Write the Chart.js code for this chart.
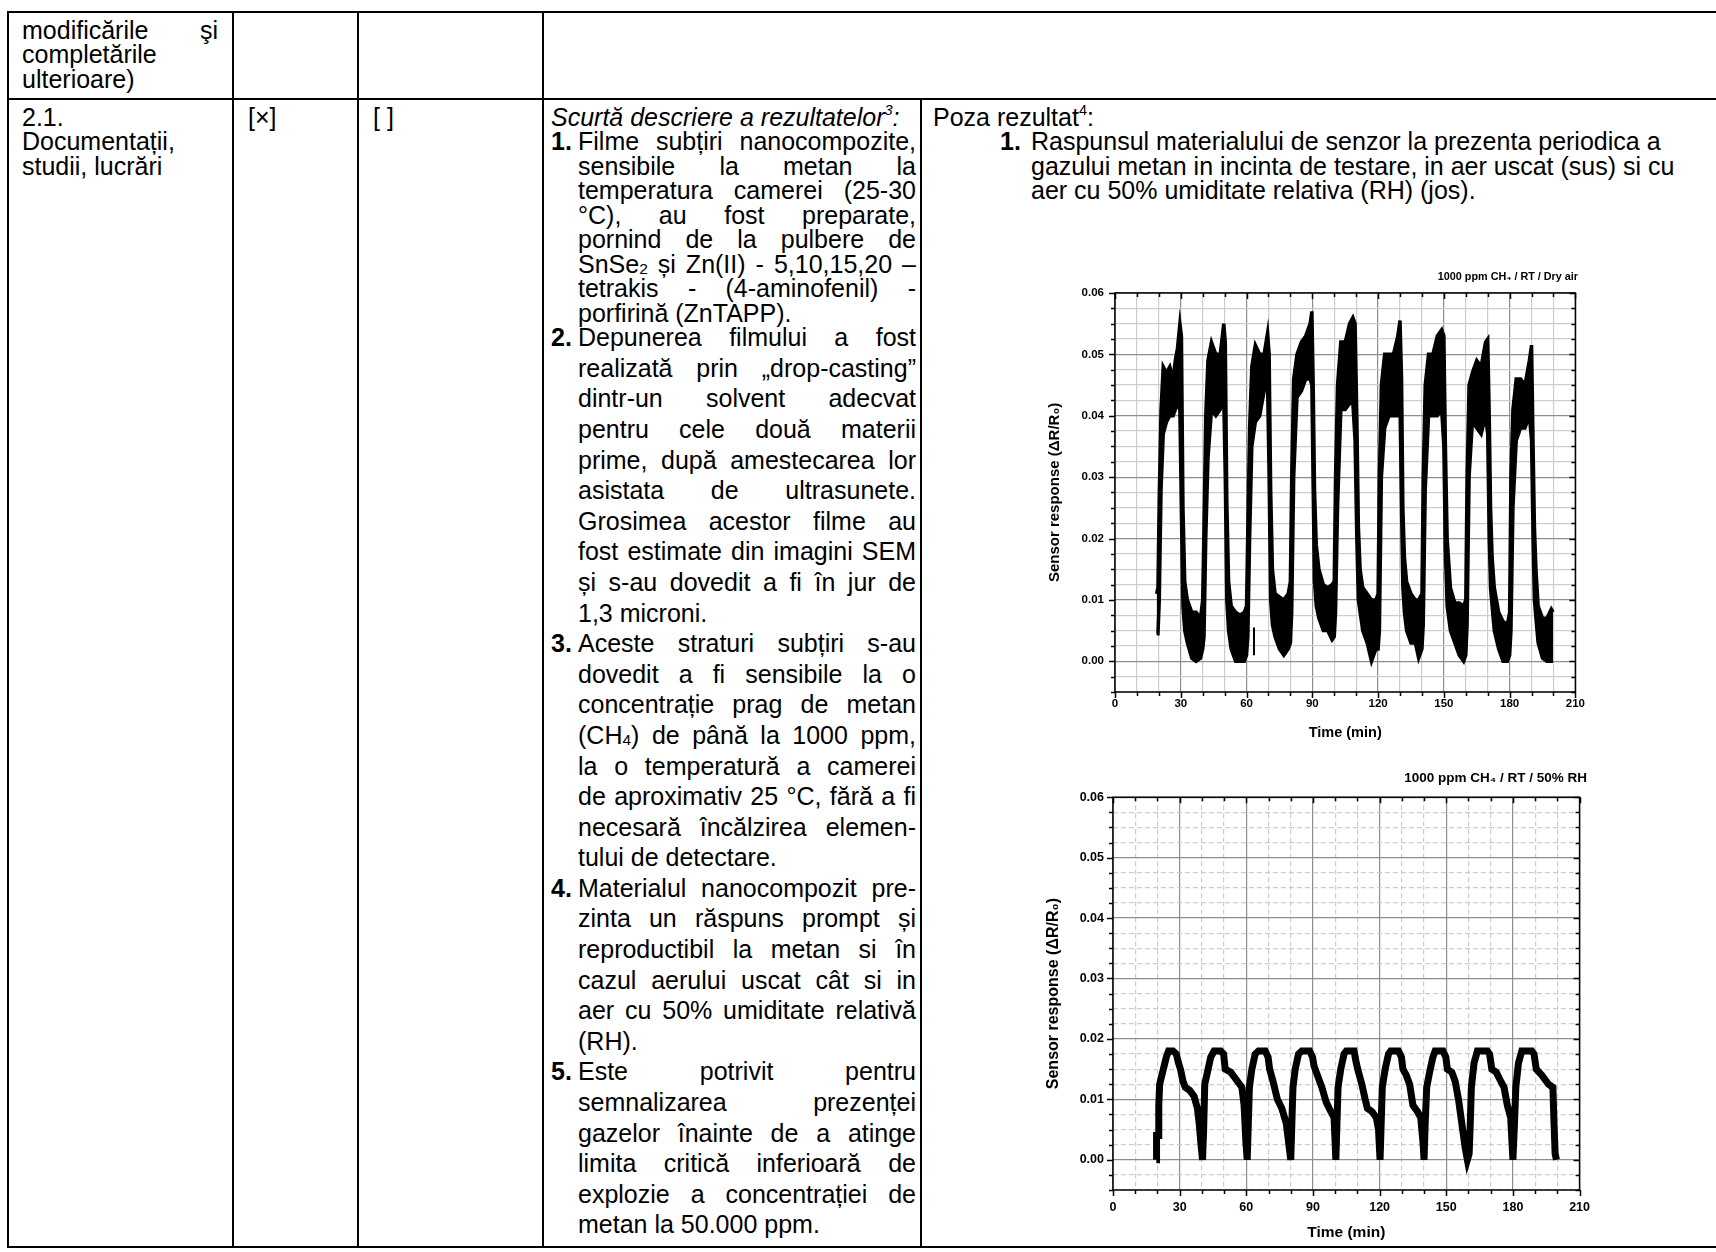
<!DOCTYPE html>
<html>
<head>
<meta charset="utf-8">
<script src="https://cdn.jsdelivr.net/npm/chart.js@4.4.1/dist/chart.umd.min.js"></script>
<style>
  html, body { margin: 0; padding: 0; background: #fff; }
  body {
    width: 1716px; height: 1252px; position: relative; overflow: hidden;
    font-family: 'Liberation Sans', Arial, Helvetica, sans-serif;
    font-size: 25px; line-height: 24.5px; color: #000;
  }
  .h { position: absolute; height: 2px; background: #000; }
  .v { position: absolute; width: 2px; background: #000; }
  .blk { position: absolute; }
  .ln { height: 24.5px; position: relative; white-space: nowrap; }
  .lo { height: 30.6px; }
  .j { text-align: justify; text-align-last: justify; white-space: normal; }
  .ind { padding-left: 27px; }
  .num { position: absolute; left: 0; top: 0; font-weight: bold; }
  sup { font-size: 58%; line-height: 0; vertical-align: 0.75em; }
  .sub { font-size: 62%; vertical-align: -0.05em; }
  canvas { position: absolute; }
</style>
</head>
<body>

<!-- table lines -->
<div class="h" style="left:7px; top:11px; width:1709px;"></div>
<div class="h" style="left:7px; top:98px; width:1709px;"></div>
<div class="h" style="left:7px; top:1246px; width:1709px;"></div>
<div class="v" style="left:7px; top:11px; height:1237px;"></div>
<div class="v" style="left:232px; top:11px; height:1237px;"></div>
<div class="v" style="left:357px; top:11px; height:1237px;"></div>
<div class="v" style="left:542px; top:11px; height:1237px;"></div>
<div class="v" style="left:920px; top:98px; height:1150px;"></div>

<!-- column 1 -->
<div class="blk" style="left:22px; top:17.7px; width:196px;">
  <div class="ln j">modificările şi</div>
  <div class="ln">completările</div>
  <div class="ln">ulterioare)</div>
</div>
<div class="blk" style="left:22px; top:104.7px; width:196px;">
  <div class="ln">2.1.</div>
  <div class="ln">Documentații,</div>
  <div class="ln">studii, lucrări</div>
</div>
<div class="blk" style="left:248px; top:104.7px;"><div class="ln">[×]</div></div>
<div class="blk" style="left:373px; top:104.7px;"><div class="ln">[ ]</div></div>

<!-- column 4 -->
<div class="blk" style="left:551px; top:104.7px; width:365px;">
  <div class="ln"><i>Scurtă descriere a rezultatelor<sup>3</sup>:</i></div>
  <div class="ln ind j"><span class="num">1.</span>Filme subțiri nanocompozite,</div>
  <div class="ln ind j">sensibile la metan la</div>
  <div class="ln ind j">temperatura camerei (25-30</div>
  <div class="ln ind j">°C), au fost preparate,</div>
  <div class="ln ind j">pornind de la pulbere de</div>
  <div class="ln ind j">SnSe<span class="sub">2</span> și Zn(II) - 5,10,15,20 –</div>
  <div class="ln ind j">tetrakis - (4-aminofenil) -</div>
  <div class="ln ind">porfirină (ZnTAPP).</div>
  <div class="ln lo ind j"><span class="num">2.</span>Depunerea filmului a fost</div>
  <div class="ln lo ind j">realizată prin „drop-casting”</div>
  <div class="ln lo ind j">dintr-un solvent adecvat</div>
  <div class="ln lo ind j">pentru cele două materii</div>
  <div class="ln lo ind j">prime, după amestecarea lor</div>
  <div class="ln lo ind j">asistata de ultrasunete.</div>
  <div class="ln lo ind j">Grosimea acestor filme au</div>
  <div class="ln lo ind j">fost estimate din imagini SEM</div>
  <div class="ln lo ind j">și s-au dovedit a fi în jur de</div>
  <div class="ln lo ind">1,3 microni.</div>
  <div class="ln lo ind j"><span class="num">3.</span>Aceste straturi subțiri s-au</div>
  <div class="ln lo ind j">dovedit a fi sensibile la o</div>
  <div class="ln lo ind j">concentrație prag de metan</div>
  <div class="ln lo ind j">(CH<span class="sub">4</span>) de până la 1000 ppm,</div>
  <div class="ln lo ind j">la o temperatură a camerei</div>
  <div class="ln lo ind j">de aproximativ 25 °C, fără a fi</div>
  <div class="ln lo ind j">necesară încălzirea elemen-</div>
  <div class="ln lo ind">tului de detectare.</div>
  <div class="ln lo ind j"><span class="num">4.</span>Materialul nanocompozit pre-</div>
  <div class="ln lo ind j">zinta un răspuns prompt și</div>
  <div class="ln lo ind j">reproductibil la metan si în</div>
  <div class="ln lo ind j">cazul aerului uscat cât si in</div>
  <div class="ln lo ind j">aer cu 50% umiditate relativă</div>
  <div class="ln lo ind">(RH).</div>
  <div class="ln lo ind j"><span class="num">5.</span>Este potrivit pentru</div>
  <div class="ln lo ind j">semnalizarea prezenței</div>
  <div class="ln lo ind j">gazelor înainte de a atinge</div>
  <div class="ln lo ind j">limita critică inferioară de</div>
  <div class="ln lo ind j">explozie a concentrației de</div>
  <div class="ln lo ind">metan la 50.000 ppm.</div>
</div>

<!-- column 5 -->
<div class="blk" style="left:933px; top:104.7px;">
  <div class="ln">Poza rezultat<sup>4</sup>:</div>
</div>
<div class="blk" style="left:1000px; top:129.2px; width:700px;">
  <div class="ln" style="padding-left:31px;"><span class="num">1.</span>Raspunsul materialului de senzor la prezenta periodica a</div>
  <div class="ln" style="padding-left:31px;">gazului metan in incinta de testare, in aer uscat (sus) si cu</div>
  <div class="ln" style="padding-left:31px;">aer cu 50% umiditate relativa (RH) (jos).</div>
</div>

<canvas id="dry" width="560" height="480" style="left:1030px; top:265px;"></canvas>
<canvas id="humid" width="570" height="492" style="left:1030px; top:760px;"></canvas>

<script>
// axis labels
const timeMajor = [0, 30, 60, 90, 120, 150, 180, 210];
const responseMajor = [0.00, 0.01, 0.02, 0.03, 0.04, 0.05, 0.06];

// dry air: the noisy trace is kept as its upper and lower envelope
const dryTime = [
  19.0, 19.6, 20.2, 21.0, 22.0, 23.5, 25.0, 26.5, 27.5, 28.5, 29.6, 30.3, 31.0, 31.8, 33.0, 35.0, 37.0, 39.0, 40.0,
  40.6, 41.4, 42.4, 44.0, 46.0, 48.0, 49.6, 50.3, 51.0, 51.8, 53.0, 55.0, 57.0, 59.0, 60.0,
  60.6, 61.4, 62.4, 64.0, 66.0, 68.0, 69.6, 70.3, 71.0, 71.8, 73.0, 75.0, 77.0, 79.0, 80.0,
  80.6, 81.5, 83.0, 85.0, 87.0, 89.0, 89.8, 90.4, 91.0, 91.8, 93.0, 95.0, 97.0, 99.0, 100.0,
  100.6, 101.5, 103.0, 105.0, 107.0, 108.5, 109.5, 110.3, 111.0, 111.8, 113.0, 115.0, 117.0, 119.0, 120.0,
  120.6, 121.5, 123.0, 125.0, 127.0, 129.0, 130.0, 130.7, 131.3, 132.0, 133.0, 135.0, 137.0, 138.5, 140.0,
  140.6, 141.5, 143.0, 145.0, 147.0, 149.0, 150.0, 150.7, 151.5, 153.0, 155.0, 157.0, 159.0, 160.0,
  160.6, 161.5, 163.0, 165.0, 167.0, 169.0, 170.0, 170.7, 171.3, 172.0, 173.0, 175.0, 177.0, 179.0, 180.0,
  180.6, 181.5, 183.0, 185.0, 187.0, 189.0, 190.0, 190.7, 191.3, 192.0, 193.0, 195.0, 197.0, 199.0, 199.8
];
const dryUpper = [
  0.011, 0.012, 0.027, 0.041, 0.048, 0.047, 0.048, 0.046, 0.049, 0.051, 0.055, 0.053, 0.025, 0.013, 0.010, 0.008, 0.008, 0.007, 0.010,
  0.022, 0.040, 0.049, 0.052, 0.050, 0.050, 0.055, 0.052, 0.026, 0.013, 0.009, 0.008, 0.0075, 0.008, 0.009,
  0.022, 0.038, 0.048, 0.0515, 0.050, 0.050, 0.0535, 0.050, 0.028, 0.015, 0.011, 0.0105, 0.010, 0.011, 0.013,
  0.030, 0.046, 0.050, 0.052, 0.053, 0.055, 0.057, 0.045, 0.028, 0.019, 0.015, 0.0125, 0.012, 0.0125, 0.013,
  0.030, 0.045, 0.052, 0.052, 0.055, 0.056, 0.055, 0.040, 0.022, 0.015, 0.012, 0.011, 0.010, 0.010, 0.011,
  0.030, 0.045, 0.050, 0.050, 0.050, 0.053, 0.0555, 0.046, 0.025, 0.017, 0.013, 0.011, 0.010, 0.010, 0.011,
  0.030, 0.045, 0.050, 0.050, 0.053, 0.054, 0.053, 0.035, 0.020, 0.012, 0.0095, 0.0095, 0.009, 0.010,
  0.030, 0.045, 0.047, 0.049, 0.048, 0.052, 0.0525, 0.040, 0.025, 0.017, 0.012, 0.008, 0.0065, 0.006, 0.008,
  0.030, 0.041, 0.046, 0.046, 0.045, 0.049, 0.0515, 0.035, 0.022, 0.015, 0.009, 0.007, 0.007, 0.0085, 0.008
];
const dryLower = [
  0.0045, 0.0045, 0.010, 0.028, 0.037, 0.039, 0.040, 0.040, 0.041, 0.042, 0.041, 0.024, 0.009, 0.005, 0.003, 0.0005, 0.000, 0.0005, 0.002,
  0.004, 0.020, 0.033, 0.041, 0.040, 0.041, 0.043, 0.030, 0.010, 0.005, 0.002, 0.000, 0.000, 0.000, 0.001,
  0.004, 0.020, 0.035, 0.039, 0.040, 0.044, 0.045, 0.030, 0.010, 0.006, 0.004, 0.002, 0.001, 0.002, 0.003,
  0.008, 0.030, 0.043, 0.044, 0.046, 0.046, 0.045, 0.028, 0.013, 0.009, 0.007, 0.005, 0.005, 0.0035, 0.004,
  0.008, 0.025, 0.041, 0.041, 0.042, 0.042, 0.036, 0.020, 0.010, 0.008, 0.005, 0.003, 0.000, 0.002, 0.002,
  0.005, 0.030, 0.038, 0.040, 0.040, 0.040, 0.042, 0.025, 0.012, 0.008, 0.005, 0.003, 0.003, 0.0005, 0.002,
  0.006, 0.028, 0.040, 0.040, 0.040, 0.041, 0.035, 0.018, 0.009, 0.005, 0.003, 0.001, 0.000, 0.001,
  0.006, 0.030, 0.039, 0.038, 0.037, 0.040, 0.037, 0.020, 0.012, 0.009, 0.005, 0.002, 0.000, 0.000, 0.001,
  0.005, 0.025, 0.036, 0.038, 0.038, 0.040, 0.036, 0.020, 0.010, 0.007, 0.003, 0.0005, 0.000, 0.000, 0.000
];
// lone glitch near 63 min
const spikeTime = [63.4, 63.4];
const spikeResponse = [0.001, 0.0055];

// 50% RH
const humidTime = [
  19.5, 19.6, 20.3, 20.6, 21.0, 22.0, 23.0, 24.0, 25.0, 27.0, 28.5, 29.5, 30.5, 31.5, 32.5, 34.5, 36.5, 38.0, 38.8, 39.5, 40.3,
  40.8, 41.3, 42.5, 44.0, 45.5, 48.5, 49.8, 50.5, 53.0, 56.0, 58.0, 59.0, 59.8, 60.4,
  60.9, 61.4, 62.5, 64.0, 65.5, 68.5, 69.8, 70.5, 72.0, 74.0, 76.0, 78.0, 79.0, 80.0,
  80.5, 81.0, 82.0, 83.5, 85.0, 88.5, 89.8, 90.5, 92.0, 94.0, 96.0, 98.0, 99.5, 100.3,
  100.8, 101.3, 102.5, 104.0, 105.0, 108.5, 109.5, 110.5, 112.0, 113.5, 114.5, 116.5, 118.5, 119.5, 120.2,
  120.7, 121.2, 122.5, 124.0, 125.0, 128.5, 129.8, 130.5, 132.0, 133.5, 135.0, 137.0, 138.5, 139.5, 140.0,
  140.5, 141.2, 142.5, 144.0, 145.0, 148.5, 149.8, 150.5, 152.5, 154.0, 155.5, 157.0, 158.5, 159.5, 160.3,
  160.8, 161.3, 162.5, 164.0, 168.5, 169.5, 170.5, 172.5, 174.5, 176.0, 177.5, 179.0, 180.0,
  180.7, 181.3, 182.5, 184.0, 188.5, 189.5, 190.5, 193.0, 196.0, 198.0, 198.5, 199.0, 199.6
];
const humidResponse = [
  0.000, 0.004, 0.004, 0.009, 0.0125, 0.014, 0.0155, 0.017, 0.018, 0.018, 0.0175, 0.016, 0.0148, 0.013, 0.012, 0.0115, 0.0105, 0.0085, 0.006, 0.003, 0.000,
  0.005, 0.0125, 0.0145, 0.017, 0.018, 0.018, 0.0175, 0.015, 0.0145, 0.013, 0.012, 0.009, 0.003, 0.000,
  0.006, 0.012, 0.015, 0.0175, 0.018, 0.018, 0.017, 0.015, 0.013, 0.010, 0.0085, 0.006, 0.003, 0.000,
  0.006, 0.012, 0.015, 0.0175, 0.018, 0.018, 0.017, 0.0155, 0.014, 0.012, 0.0095, 0.008, 0.007, 0.000,
  0.006, 0.012, 0.015, 0.0175, 0.018, 0.018, 0.016, 0.0145, 0.0125, 0.010, 0.0085, 0.008, 0.007, 0.005, 0.000,
  0.006, 0.012, 0.015, 0.0175, 0.018, 0.018, 0.017, 0.015, 0.014, 0.0125, 0.009, 0.008, 0.007, 0.003, 0.000,
  0.006, 0.012, 0.0145, 0.017, 0.018, 0.018, 0.017, 0.015, 0.0145, 0.013, 0.010, 0.006, 0.002, 0.000, 0.001,
  0.006, 0.012, 0.016, 0.018, 0.018, 0.0175, 0.015, 0.0145, 0.013, 0.012, 0.009, 0.007, 0.000,
  0.006, 0.012, 0.016, 0.018, 0.018, 0.0175, 0.015, 0.014, 0.0125, 0.012, 0.006, 0.001, 0.000
];

const FONT = "'Liberation Sans', Arial, Helvetica, sans-serif";

const isMajorX = v => timeMajor.some(m => Math.abs(m - v) < 1e-6);
const isMajorY = v => responseMajor.some(m => Math.abs(m - v) < 1e-9);
const pts = (xs, ys) => xs.map((x, i) => ({ x: x, y: ys[i] }));

// box round the plot, with long major and short minor ticks
const frameTicks = {
  id: 'frameTicks',
  afterDraw(chart) {
    const { ctx, chartArea: a, scales: { x, y } } = chart;
    ctx.save();
    ctx.strokeStyle = '#000';
    ctx.lineWidth = 1.5;
    ctx.strokeRect(a.left, a.top, a.right - a.left, a.bottom - a.top);
    ctx.beginPath();
    x.ticks.forEach(t => {
      const px = Math.round(x.getPixelForValue(t.value)) + 0.5;
      const len = isMajorX(t.value) ? 6 : 4;
      ctx.moveTo(px, a.bottom); ctx.lineTo(px, a.bottom + len);
      ctx.moveTo(px, a.top); ctx.lineTo(px, a.top + len);
    });
    y.ticks.forEach(t => {
      const py = Math.round(y.getPixelForValue(t.value)) + 0.5;
      const len = isMajorY(t.value) ? 6 : 4;
      ctx.moveTo(a.left, py); ctx.lineTo(a.left - len, py);
      ctx.moveTo(a.right, py); ctx.lineTo(a.right - len, py);
    });
    ctx.stroke();
    ctx.restore();
  }
};

function sensorOptions(s) {
  return {
    responsive: false,
    animation: false,
    devicePixelRatio: 1,
    layout: { padding: { left: 0, right: s.padRight, top: 0, bottom: 0 } },
    plugins: {
      legend: { display: false },
      tooltip: { enabled: false },
      title: {
        display: true, text: s.title, align: 'end', color: '#000',
        font: { family: FONT, size: s.titleSize, weight: 'bold' },
        padding: { top: s.titleTop, bottom: s.titleBottom }
      }
    },
    scales: {
      x: {
        type: 'linear', min: 0, max: 210,
        ticks: {
          stepSize: 10, autoSkip: false, maxRotation: 0, padding: s.xPad, color: '#000',
          font: { family: FONT, size: s.tickSize, weight: 'bold' },
          callback: v => isMajorX(v) ? String(Math.round(v)) : ''
        },
        grid: {
          drawTicks: false, lineWidth: 1.2,
          color: c => c.tick && isMajorX(c.tick.value) ? '#8e8e8e' : '#cdcdcd'
        },
        border: { display: false, dash: c => (s.dashMinor && c.tick && !isMajorX(c.tick.value)) ? [5, 3] : [] },
        title: {
          display: true, text: 'Time (min)', color: '#000',
          font: { family: FONT, size: s.xTitleSize, weight: 'bold' },
          padding: { top: 0, bottom: s.xTitlePad }
        },
        afterFit: sc => { sc.height = s.xHeight; }
      },
      y: {
        type: 'linear', min: -0.005, max: 0.06,
        ticks: {
          stepSize: 0.0025, autoSkip: false, padding: s.yPad, color: '#000',
          font: { family: FONT, size: s.tickSize, weight: 'bold' },
          callback: v => isMajorY(v) ? v.toFixed(2) : ''
        },
        grid: {
          drawTicks: false, lineWidth: 1.2,
          color: c => c.tick && isMajorY(c.tick.value) ? '#8e8e8e' : '#cdcdcd'
        },
        border: { display: false, dash: c => (s.dashMinor && c.tick && !isMajorY(c.tick.value)) ? [5, 3] : [] },
        title: {
          display: true, text: 'Sensor response (ΔR/R₀)', color: '#000',
          font: { family: FONT, size: s.yTitleSize, weight: 'bold' },
          padding: { top: s.yTitlePad, bottom: 0 }
        },
        afterFit: sc => { sc.width = s.yWidth; }
      }
    }
  };
}

new Chart(document.getElementById('dry'), {
  type: 'line',
  data: {
    datasets: [
      {
        data: pts(dryTime, dryUpper), borderColor: '#000', backgroundColor: '#000',
        borderWidth: 3.5, pointRadius: 0, fill: '+1', tension: 0
      },
      {
        data: pts(dryTime, dryLower), borderColor: '#000',
        borderWidth: 3.5, pointRadius: 0, fill: false, tension: 0
      },
      {
        data: pts(spikeTime, spikeResponse), borderColor: '#000',
        borderWidth: 2, pointRadius: 0, fill: false
      }
    ]
  },
  options: sensorOptions({
    title: '1000 ppm CH₄ / RT / Dry air', titleSize: 10.8, titleTop: 6, titleBottom: 9,
    padRight: 12, yWidth: 85, xHeight: 53, tickSize: 11.5, xPad: 5, yPad: 11,
    xTitleSize: 14.5, xTitlePad: 3.3, yTitleSize: 15, yTitlePad: 16, dashMinor: false
  }),
  plugins: [frameTicks]
});

new Chart(document.getElementById('humid'), {
  type: 'line',
  data: {
    datasets: [
      {
        data: pts(humidTime, humidResponse), borderColor: '#000',
        borderWidth: 7, pointRadius: 0, fill: false, tension: 0,
        borderJoinStyle: 'miter', borderCapStyle: 'butt'
      }
    ]
  },
  options: sensorOptions({
    title: '1000 ppm CH₄ / RT / 50% RH', titleSize: 13.5, titleTop: 10, titleBottom: 11,
    padRight: 13, yWidth: 83, xHeight: 62, tickSize: 12.5, xPad: 10, yPad: 9,
    xTitleSize: 15.5, xTitlePad: 9.7, yTitleSize: 16, yTitlePad: 14.4, dashMinor: true
  }),
  plugins: [frameTicks]
});
</script>
</body>
</html>
